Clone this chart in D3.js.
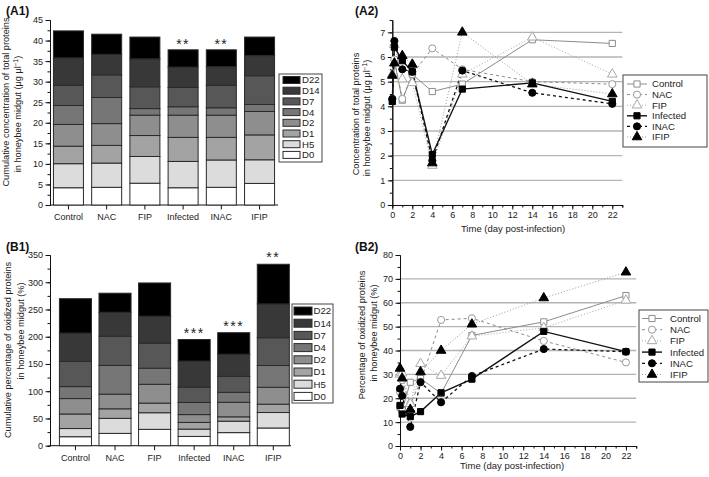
<!DOCTYPE html>
<html><head><meta charset="utf-8">
<script src="https://cdn.jsdelivr.net/npm/d3@7"></script>
<style>body{margin:0;background:#fff}svg{display:block}text{font-family:"Liberation Sans",Arial,sans-serif}</style>
</head><body>
<svg id="c" width="709" height="477"></svg>
<script>
// ---------- DATA ----------
const days = ["D0","H5","D1","D2","D4","D7","D14","D22"];
const dayTime = [0, 0.208, 1, 2, 4, 7, 14, 22];
const groups = ["Control","NAC","FIP","Infected","INAC","IFIP"];
// total proteins (µg/µl) per sampling day
const protControl  = [4.2, 5.85, 4.25, 5.3, 4.6, 4.9, 6.7, 6.55];
const protNAC      = [4.3, 5.9, 4.3, 5.3, 6.35, 5.5, 5.0, 4.9];
const protFIP      = [5.3, 6.5, 5.1, 4.95, 1.6, 5.3, 6.8, 5.3];
const protInfected = [4.2, 6.4, 5.85, 5.4, 2.05, 4.7, 4.95, 4.2];
const protINAC     = [4.3, 6.65, 5.5, 5.4, 1.8, 5.45, 4.55, 4.1];
const protIFIP     = [5.25, 5.75, 6.05, 5.7, 1.7, 7.0, 4.9, 4.5];
// oxidized proteins (%) per sampling day
const oxControl  = [16.5, 15, 26.7, 28.3, 22, 46.3, 52, 63];
const oxNAC      = [22.6, 27.6, 17.5, 26.9, 52.8, 53.5, 44, 35];
const oxFIP      = [30, 30.5, 17.7, 34.5, 29.5, 46, 49.5, 61];
const oxInfected = [17, 13.4, 12.3, 14.4, 22.3, 28, 48, 39.5];
const oxINAC     = [24, 21, 8, 26.7, 18.3, 29.3, 40.6, 39.5];
const oxIFIP     = [32.5, 28.4, 15.3, 31, 40, 51, 62, 72.8];
// significance marks
const starsA = ["", "", "", "**", "**", ""];
const starsB = ["", "", "", "***", "***", "**"];
const yTicksA1 = d3.range(0, 46, 5);
const yTicksB1 = d3.range(0, 351, 50);
const yTicksA2 = d3.range(0, 8, 1);
const yTicksB2 = d3.range(0, 81, 10);
const xTicksTime = d3.range(0, 23, 2);

const protData = [protControl, protNAC, protFIP, protInfected, protINAC, protIFIP];
const oxData = [oxControl, oxNAC, oxFIP, oxInfected, oxINAC, oxIFIP];

// ---------- STYLE ----------
const segFill = ["#ffffff","#dcdcdc","#a3a3a3","#8e8e8e","#767676","#575757","#383838","#000000"];
const seriesStyle = [
  {stroke:"#8c8c8c", dash:null, fill:"#fff", mstroke:"#8c8c8c", shape:"square", w:1},
  {stroke:"#8c8c8c", dash:"3,3", fill:"#fff", mstroke:"#9a9a9a", shape:"circle", w:1},
  {stroke:"#a8a8a8", dash:"1,2", fill:"#fff", mstroke:"#a8a8a8", shape:"triangle", w:1},
  {stroke:"#111", dash:null, fill:"#000", mstroke:"#000", shape:"square", w:1.4},
  {stroke:"#111", dash:"3,3", fill:"#000", mstroke:"#000", shape:"circle", w:1.3},
  {stroke:"#9a9a9a", dash:"1,2", fill:"#000", mstroke:"#000", shape:"triangle", w:1}
];
const FS = 9;

const svg = d3.select("#c");

function sym(shape){
  if(shape==="square") return d3.symbol().type(d3.symbolSquare).size(38)();
  if(shape==="circle") return d3.symbol().type(d3.symbolCircle).size(40)();
  return d3.symbol().type(d3.symbolTriangle).size(40)();
}

function yTitle(g, x, y, lines, sup){
  lines.forEach((l,i)=>{
    const t = g.append("text").attr("transform",`translate(${x[i]},${y[i]}) rotate(-90)`)
      .attr("text-anchor","middle").attr("font-size",9.2).attr("fill","#222");
    if(i===1 && sup){
      t.append("tspan").text("in honeybee midgut (μg μl");
      t.append("tspan").attr("font-size",6.5).attr("dy",-3.5).text("−1");
      t.append("tspan").attr("dy",3.5).text(")");
    } else t.text(l);
  });
}

function styleAxis(g){
  g.selectAll("path.domain").attr("stroke","#111").attr("stroke-width",1);
  g.selectAll(".tick line").attr("stroke","#111");
  g.selectAll("text").attr("font-size",FS).attr("fill","#222")
    .style("font-family","'Liberation Sans',Arial,sans-serif");
}

function barPanel(data, stars, cfg){
  const x = d3.scaleBand().domain(groups).range(cfg.xr).paddingInner(cfg.pi).paddingOuter(cfg.po).align(cfg.al);
  const y = d3.scaleLinear().domain(cfg.yd).range(cfg.yr);
  const g = svg.append("g");
  const minor = g.append("g").attr("transform",`translate(${cfg.xr[0]},0)`)
    .call(d3.axisLeft(y).tickValues(d3.range(cfg.yd[0], cfg.yd[1]+0.01, cfg.minor)).tickSize(2.5).tickFormat(""));
  styleAxis(minor);
  const ya = g.append("g").attr("transform",`translate(${cfg.xr[0]},0)`)
    .call(d3.axisLeft(y).tickValues(cfg.ticks).tickSize(4.5).tickSizeOuter(0).tickPadding(2.5));
  styleAxis(ya);
  const xa = g.append("g").attr("transform",`translate(0,${cfg.yr[0]})`)
    .call(d3.axisBottom(x).tickSize(4.5).tickSizeOuter(0).tickPadding(4));
  styleAxis(xa);
  xa.select("path.domain").attr("d",`M${cfg.xr[0]},0H${cfg.xr[1]}`);
  groups.forEach((gr,i)=>{
    let cum = 0;
    data[i].forEach((v,j)=>{
      g.append("rect").attr("x",x(gr)).attr("width",x.bandwidth())
        .attr("y",y(cum+v)).attr("height",y(cum)-y(cum+v))
        .attr("fill",segFill[j]).attr("stroke","#2a2a2a").attr("stroke-width",1);
      cum += v;
    });
    if(stars[i]) g.append("text").attr("x",x(gr)+x.bandwidth()/2).attr("y",y(cum)-cfg.starOff)
      .attr("text-anchor","middle").attr("font-size",14).attr("letter-spacing",1.5).attr("fill","#222").text(stars[i]);
  });
  const L = cfg.leg;
  g.append("rect").attr("x",L.x).attr("y",L.y).attr("width",L.w).attr("height",L.h)
    .attr("fill","#fff").attr("stroke","#444").attr("stroke-width",1);
  days.slice().reverse().forEach((d,k)=>{
    const j = days.length-1-k;
    const cy = L.y0 + k*L.dy;
    g.append("rect").attr("x",L.sx).attr("y",cy-L.sh/2).attr("width",L.sw).attr("height",L.sh)
      .attr("fill",segFill[j]).attr("stroke","#2a2a2a");
    g.append("text").attr("x",L.tx).attr("y",cy+3.4).attr("font-size",9.6).attr("fill","#222").text(d);
  });
}

function linePanel(data, cfg){
  const x = d3.scaleLinear().domain([0,23]).range(cfg.xr);
  const y = d3.scaleLinear().domain(cfg.yd).range(cfg.yr);
  const g = svg.append("g");
  cfg.ticks.filter(t=>t>0 && t<=cfg.gridMax).forEach(t=>{
    g.append("line").attr("x1",cfg.xr[0]).attr("x2",cfg.xr[1]).attr("y1",y(t)).attr("y2",y(t))
      .attr("stroke","#b4b4b4").attr("stroke-width",1.3);
  });
  const minorY = g.append("g").attr("transform",`translate(${cfg.xr[0]},0)`)
    .call(d3.axisLeft(y).tickValues(d3.range(cfg.yd[0], cfg.yd[1]+0.01, cfg.minor)).tickSize(2.5).tickFormat(""));
  styleAxis(minorY);
  const ya = g.append("g").attr("transform",`translate(${cfg.xr[0]},0)`)
    .call(d3.axisLeft(y).tickValues(cfg.ticks).tickSize(4.5).tickSizeOuter(0).tickPadding(2.5));
  styleAxis(ya);
  const minorX = g.append("g").attr("transform",`translate(0,${cfg.yr[0]})`)
    .call(d3.axisBottom(x).tickValues(d3.range(0,24,1)).tickSize(2.5).tickFormat(""));
  styleAxis(minorX);
  const xa = g.append("g").attr("transform",`translate(0,${cfg.yr[0]})`)
    .call(d3.axisBottom(x).tickValues(xTicksTime).tickSize(4.5).tickSizeOuter(0).tickPadding(2.5));
  styleAxis(xa);
  g.append("text").attr("x",cfg.xt[0]).attr("y",cfg.xt[1]).attr("text-anchor","middle")
    .attr("font-size",9.5).attr("fill","#222").text("Time (day post-infection)");
  const line = d3.line().x((d,i)=>x(dayTime[i])).y(d=>y(d));
  const order = [0,1,2,5,4,3];
  order.forEach(i=>{
    const s = seriesStyle[i];
    g.append("path").attr("d",line(data[i])).attr("fill","none").attr("stroke",s.stroke)
      .attr("stroke-width",s.w).attr("stroke-dasharray",s.dash);
  });
  order.forEach(i=>{
    const s = seriesStyle[i];
    data[i].forEach((v,j)=>{
      g.append("path").attr("d",sym(s.shape)).attr("transform",`translate(${x(dayTime[j])},${y(v)})`)
        .attr("fill",s.fill).attr("stroke",s.mstroke).attr("stroke-width",1);
    });
  });
  const L = cfg.leg;
  g.append("rect").attr("x",L.x).attr("y",L.y).attr("width",L.w).attr("height",L.h)
    .attr("fill","#fff").attr("stroke","#444").attr("stroke-width",1);
  groups.forEach((gr,k)=>{
    const s = seriesStyle[k];
    const cy = L.y0 + k*L.dy;
    g.append("line").attr("x1",L.lx).attr("x2",L.lx+L.lw).attr("y1",cy).attr("y2",cy)
      .attr("stroke",s.stroke).attr("stroke-width",s.w).attr("stroke-dasharray",s.dash);
    g.append("path").attr("d",sym(s.shape)).attr("transform",`translate(${L.lx+L.lw/2},${cy})`)
      .attr("fill",s.fill).attr("stroke",s.mstroke);
    g.append("text").attr("x",L.tx).attr("y",cy+3.4).attr("font-size",9.6).attr("fill","#222").text(gr);
  });
}

// ---------- PANELS ----------
barPanel(protData, starsA, {xr:[50,278], pi:0.215, po:0.09, al:0.5, yd:[0,45], yr:[205,20], ticks:yTicksA1, minor:2.5, starOff:1,
  leg:{x:279,y:74,w:43,h:88,y0:80,dy:10.7,sx:283,sw:17,sh:7,tx:302}});
barPanel(oxData, starsB, {xr:[50,291], pi:0.19, po:0.14, al:0.85, yd:[0,350], yr:[445.7,255], ticks:yTicksB1, minor:25, starOff:2,
  leg:{x:292,y:304,w:41,h:99,y0:311,dy:12.2,sx:294,sw:18,sh:8,tx:313.5}});
linePanel(protData, {xr:[392.3,622.3], yd:[0,7.5], yr:[205,20], ticks:yTicksA2, gridMax:7, minor:0.5, xt:[513,232],
  leg:{x:623,y:75,w:84,h:72,y0:84,dy:10.6,lx:627,lw:20,tx:652}});
linePanel(oxData, {xr:[400,636.2], yd:[0,80], yr:[446,255], ticks:yTicksB2, gridMax:70, minor:5, xt:[512,469],
  leg:{x:639,y:310,w:69,h:72,y0:318.5,dy:11.2,lx:642,lw:20,tx:670}});

// axis titles
yTitle(svg, [9,21], [102,114], ["Cumulative concentration of total proteins",""], true);
yTitle(svg, [359,370], [114,118], ["Concentration of total proteins",""], true);
yTitle(svg, [11,24], [350,331], ["Cumulative percentage of oxidized proteins","in honeybee midgut (%)"], false);
yTitle(svg, [365,377], [335,333], ["Percentage of oxidized proteins","in honeybee midgut (%)"], false);

// panel labels
[["(A1)",6,15],["(A2)",355,15],["(B1)",6,251],["(B2)",355,251]].forEach(p=>{
  svg.append("text").attr("x",p[1]).attr("y",p[2]).attr("font-size",12).attr("font-weight","bold").attr("fill","#111").text(p[0]);
});
</script>
</body></html>
